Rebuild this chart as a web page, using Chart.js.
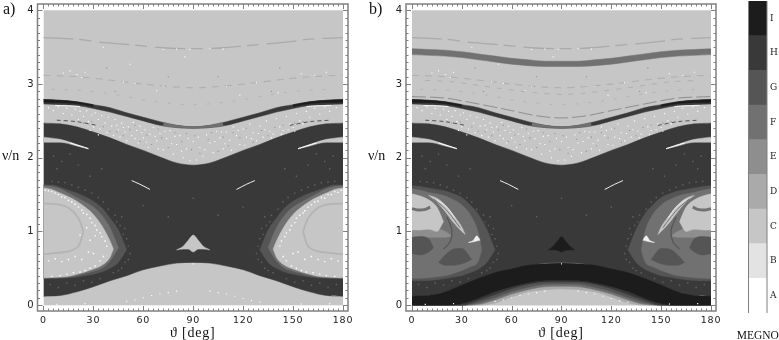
<!DOCTYPE html>
<html>
<head>
<meta charset="utf-8">
<script src="https://cdn.jsdelivr.net/npm/chart.js@4"></script>
<style>
  html, body { margin: 0; padding: 0; background: #fff; overflow: hidden; }
  canvas { position: absolute; top: 0; }
</style>
</head>
<body>
<canvas id="panelA" width="360" height="340" style="left:0"></canvas>
<canvas id="panelB" width="368" height="340" style="left:360px"></canvas>
<canvas id="megnoBar" width="69" height="340" style="left:710px"></canvas>
<script>
// ── Axis ticks and MEGNO key ─────────────────────────────
const thetaTicks = [0, 30, 60, 90, 120, 150, 180];
const nuTicks = [0, 1, 2, 3, 4];
const megnoLevels = ['I', 'H', 'G', 'F', 'E', 'D', 'C', 'B', 'A'];
const megnoColors = ['#1c1c1c', '#393939', '#555555', '#717171', '#8e8e8e', '#aaaaaa', '#c6c6c6', '#e3e3e3', '#ffffff'];
const megnoWidths = [1, 1, 1, 1, 1, 1, 1, 1, 1];
const [I, H, G, F, E, D, C] = megnoColors;

// ── Boundaries across the whole theta range ──────────────
const thetaEnds = [0, 180];
const topEnds = [4, 4];
const bottomEnds = [0, 0];
const thetaGrid = [0, 10, 20, 30, 40, 50, 60, 70, 80, 90, 100, 110, 120, 130, 140, 150, 160, 170, 180];
const coreTopNu = [2.47, 2.46, 2.42, 2.35, 2.27, 2.18, 2.10, 2.01, 1.93, 1.90, 1.93, 2.01, 2.10, 2.18, 2.27, 2.35, 2.42, 2.46, 2.47];
const coreBottomNu = [0.12, 0.13, 0.18, 0.25, 0.33, 0.40, 0.48, 0.53, 0.57, 0.58, 0.57, 0.53, 0.48, 0.40, 0.33, 0.25, 0.18, 0.13, 0.12];
const ridgeTopNu = [2.79, 2.78, 2.76, 2.72, 2.68, 2.61, 2.55, 2.49, 2.44, 2.42, 2.44, 2.49, 2.55, 2.61, 2.68, 2.72, 2.76, 2.78, 2.79];
const ridgeBottomNu = [2.73, 2.72, 2.71, 2.67, 2.62, 2.56, 2.50, 2.44, 2.41, 2.40, 2.41, 2.44, 2.50, 2.56, 2.62, 2.67, 2.71, 2.72, 2.73];

const ridgeMidTheta = [72, 80, 90, 100, 108];
const ridgeMidTop = [2.48, 2.44, 2.42, 2.44, 2.48];
const ridgeMidBottom = [2.43, 2.41, 2.40, 2.41, 2.43];
const ridgeEdgeTheta = [0, 10, 20, 30];
const ridgeEdgeTop = [2.79, 2.78, 2.76, 2.72];
const ridgeEdgeBottom = [2.755, 2.75, 2.735, 2.695];
const ridgeEdgeThetaRight = [150, 160, 170, 180];

// panel b: wide band near 3.4 and the steps under the core
const wideBandTop = [3.48, 3.47, 3.46, 3.44, 3.41, 3.38, 3.35, 3.33, 3.31, 3.31, 3.31, 3.33, 3.35, 3.38, 3.41, 3.44, 3.46, 3.47, 3.48];
const wideBandBottom = [3.40, 3.39, 3.38, 3.36, 3.33, 3.30, 3.27, 3.25, 3.24, 3.24, 3.24, 3.25, 3.27, 3.30, 3.33, 3.36, 3.38, 3.39, 3.40];
const stepITop = [0.12, 0.13, 0.18, 0.27, 0.36, 0.44, 0.49, 0.54, 0.56, 0.57, 0.56, 0.54, 0.49, 0.44, 0.36, 0.27, 0.18, 0.13, 0.12];
const stepIBottom = [0, 0, 0, 0.02, 0.09, 0.18, 0.25, 0.30, 0.33, 0.335, 0.33, 0.30, 0.25, 0.18, 0.09, 0.02, 0, 0, 0];
const stepHBottom = [0, 0, 0, 0, 0.06, 0.14, 0.22, 0.28, 0.31, 0.315, 0.31, 0.28, 0.22, 0.14, 0.06, 0, 0, 0, 0];
const stepGBottom = [0, 0, 0, 0, 0.03, 0.10, 0.18, 0.24, 0.28, 0.285, 0.28, 0.24, 0.18, 0.10, 0.03, 0, 0, 0, 0];
const stepFBottom = [0, 0, 0, 0, 0.01, 0.07, 0.15, 0.21, 0.25, 0.255, 0.25, 0.21, 0.15, 0.07, 0.01, 0, 0, 0, 0];
const stepCTop = [0, 0, 0, 0, 0, 0.03, 0.11, 0.18, 0.21, 0.22, 0.21, 0.18, 0.11, 0.03, 0, 0, 0, 0, 0];
const zeroNu = [0, 0, 0, 0, 0, 0, 0, 0, 0, 0, 0, 0, 0, 0, 0, 0, 0, 0, 0];

// ── Wedges and islands (left side; right side reuses the nu values) ──
const wedgeTheta = [0, 10, 20, 27];
const wedgeThetaRight = [153, 160, 170, 180];
const wedgeTop = [2.28, 2.25, 2.18, 2.12];
const wedgeBottom = [2.21, 2.21, 2.16, 2.12];

const tipTheta = [80, 84, 87, 90, 93, 96, 100];
const tipTop = [0.75, 0.80, 0.88, 0.95, 0.88, 0.80, 0.75];
const tipBottom = [0.75, 0.76, 0.76, 0.72, 0.76, 0.76, 0.75];
const tipThetaB = [82, 85, 88, 90, 92, 95, 98];
const tipTopB = [0.75, 0.80, 0.88, 0.93, 0.88, 0.80, 0.75];
const tipBottomB = [0.75, 0.75, 0.74, 0.72, 0.74, 0.75, 0.75];

const islandTheta = [0, 5, 10, 15, 20, 25, 30, 35, 40, 42];
const islandThetaRight = [138, 140, 145, 150, 155, 160, 165, 170, 175, 180];
const islandTop = [1.59, 1.57, 1.52, 1.47, 1.41, 1.33, 1.23, 1.08, 0.87, 0.76];
const islandBottom = [0.37, 0.375, 0.38, 0.39, 0.42, 0.45, 0.49, 0.54, 0.65, 0.76];

const ringFTheta = [0, 5, 10, 15, 20, 25, 30, 35, 40, 45];
const ringFThetaRight = [135, 140, 145, 150, 155, 160, 165, 170, 175, 180];
const ringFTop = [1.62, 1.61, 1.58, 1.52, 1.46, 1.40, 1.33, 1.22, 1.05, 0.78];
const ringFBottom = [0.365, 0.37, 0.375, 0.38, 0.40, 0.43, 0.46, 0.50, 0.60, 0.78];

const ringGTheta = [0, 5, 10, 15, 20, 25, 30, 35, 40, 45, 50];
const ringGThetaRight = [130, 135, 140, 145, 150, 155, 160, 165, 170, 175, 180];
const ringGTop = [1.63, 1.63, 1.60, 1.56, 1.52, 1.47, 1.41, 1.32, 1.18, 1.02, 0.75];
const ringGBottom = [0.36, 0.36, 0.365, 0.37, 0.38, 0.40, 0.42, 0.45, 0.50, 0.58, 0.75];

// panel b island
const ringGTopB = [1.62, 1.61, 1.59, 1.57, 1.55, 1.51, 1.46, 1.36, 1.23, 1.03, 0.75];
const ringGBottomB = [0.33, 0.33, 0.335, 0.345, 0.36, 0.38, 0.40, 0.44, 0.49, 0.58, 0.75];
const coreFTheta = [0, 5, 10, 15, 20, 25, 30, 35, 40, 42];
const coreFThetaRight = [138, 140, 145, 150, 155, 160, 165, 170, 175, 180];
const coreFTop = [1.58, 1.56, 1.53, 1.51, 1.48, 1.43, 1.36, 1.23, 0.98, 0.75];
const coreFBottom = [0.36, 0.365, 0.37, 0.385, 0.40, 0.43, 0.47, 0.52, 0.60, 0.75];
const midETheta = [0, 5, 10, 15, 20, 24];
const midEThetaRight = [156, 160, 165, 170, 175, 180];
const midETop = [1.06, 1.06, 1.06, 1.04, 1.00, 0.94];
const midEBottom = [0.92, 0.92, 0.92, 0.92, 0.92, 0.94];
const lobeTheta = [0, 5, 10, 15, 19];
const lobeThetaRight = [161, 165, 170, 175, 180];
const lobeTop = [1.51, 1.48, 1.43, 1.33, 1.13];
const lobeBottom = [1.02, 1.02, 1.03, 1.00, 1.13];
const crescentTheta = [10, 15, 20, 25, 30, 32];
const crescentThetaRight = [148, 150, 155, 160, 165, 170];
const crescentTop = [1.49, 1.45, 1.36, 1.22, 1.06, 0.96];
const crescentBottom = [1.49, 1.40, 1.27, 1.12, 1.00, 0.96];
const ovalOneTheta = [0, 5, 10, 13];
const ovalOneThetaRight = [167, 170, 175, 180];
const ovalOneTop = [0.92, 0.93, 0.90, 0.78];
const ovalOneBottom = [0.70, 0.68, 0.72, 0.78];
const ovalTwoTheta = [16, 20, 25, 30, 36];
const ovalTwoThetaRight = [144, 150, 155, 160, 164];
const ovalTwoTop = [0.58, 0.68, 0.76, 0.77, 0.62];
const ovalTwoBottom = [0.58, 0.54, 0.54, 0.56, 0.62];
const flareTheta = [34, 37, 39, 41];
const flareThetaRight = [139, 141, 143, 146];
const flareTop = [0.85, 0.88, 0.94, 0.88];
const flareBottom = [0.85, 0.86, 0.87, 0.88];

// ── Thin traces as [theta, nu] ───────────────────────────
const line36 = [[0, 3.63], [20, 3.61], [34, 3.57], [54, 3.53], [74, 3.49], [90, 3.48], [106, 3.49], [126, 3.53], [146, 3.57], [160, 3.61], [180, 3.63]];
const line31 = [[0, 3.12], [20, 3.10], [34, 3.07], [60, 3.00], [90, 2.95], [120, 3.00], [146, 3.07], [160, 3.10], [180, 3.12]];
const line29 = [[5, 2.93], [25, 2.91], [45, 2.85], [65, 2.77], [90, 2.72], [115, 2.77], [135, 2.85], [155, 2.91], [175, 2.93]];
const line28 = [[0, 2.83], [20, 2.81], [40, 2.73], [60, 2.64], [75, 2.57], [90, 2.54], [105, 2.57], [120, 2.64], [140, 2.73], [160, 2.81], [180, 2.83]];
const lineB30 = [[8, 3.05], [25, 3.03], [50, 2.95], [75, 2.88], [90, 2.86], [105, 2.88], [130, 2.95], [155, 3.03], [172, 3.05]];
const dashLeft = [[8, 2.51], [20, 2.49], [32, 2.44]];
const dashRight = [[148, 2.44], [160, 2.49], [172, 2.51]];
const ridgeGlowLeft = [[7, 2.71], [15, 2.705], [22, 2.695]];
const ridgeGlowRight = [[158, 2.695], [165, 2.705], [173, 2.71]];
const wedgeGlowLeft = [[16, 2.20], [22, 2.16], [27, 2.125]];
const wedgeGlowRight = [[153, 2.125], [158, 2.16], [164, 2.20]];
const streakLeft = [[53, 1.69], [58, 1.64], [64, 1.57]];
const streakRight = [[116, 1.57], [122, 1.64], [127, 1.69]];
const arcTopLeft = [[0, 1.38], [8, 1.37], [15, 1.32], [21, 1.18], [24, 1.0]];
const arcLowLeft = [[0, 0.69], [8, 0.71], [15, 0.73], [21, 0.80], [24, 1.0]];
const arcTopRight = [[156, 1.0], [159, 1.18], [165, 1.32], [172, 1.37], [180, 1.38]];
const arcLowRight = [[156, 1.0], [159, 0.80], [165, 0.73], [172, 0.71], [180, 0.69]];
const swirlLeft = [[0, 1.31], [4, 1.29], [8, 1.30], [11, 1.33]];
const swirlRight = [[169, 1.33], [172, 1.30], [176, 1.29], [180, 1.31]];
const hookLeft = [[21, 1.20], [24, 1.02], [23, 0.86], [19, 0.76]];
const hookRight = [[161, 0.76], [157, 0.86], [156, 1.02], [159, 1.20]];
const stripeOneLeft = [[13, 1.44], [19, 1.33], [24, 1.20], [29, 1.05]];
const stripeOneRight = [[151, 1.05], [156, 1.20], [161, 1.33], [167, 1.44]];
const stripeTwoLeft = [[15, 1.43], [21, 1.33], [26, 1.18]];
const stripeTwoRight = [[154, 1.18], [159, 1.33], [165, 1.43]];

// ── Specks as [theta, nu] ────────────────────────────────
const whiteSpecks = [
  [3, 2.68], [6, 2.64], [9, 2.69], [12, 2.60], [14, 2.67], [17, 2.58], [19, 2.66], [21, 2.52], [22, 2.63], [24, 2.56],
  [26, 2.64], [27, 2.49], [29, 2.58], [30, 2.42], [31, 2.61], [33, 2.52], [34, 2.39], [35, 2.57], [37, 2.47], [38, 2.34],
  [39, 2.55], [41, 2.43], [42, 2.30], [43, 2.52], [45, 2.38], [46, 2.28], [47, 2.47], [49, 2.35], [50, 2.23], [51, 2.42],
  [53, 2.30], [54, 2.48], [56, 2.37], [57, 2.20], [58, 2.43], [60, 2.27], [61, 2.38], [63, 2.14], [64, 2.32], [66, 2.41],
  [68, 2.23], [70, 2.33], [72, 2.11], [74, 2.26], [76, 2.37], [78, 2.05], [80, 2.18], [82, 2.30], [84, 2.00], [86, 2.12],
  [88, 1.96], [90, 2.22], [92, 1.97], [94, 2.14], [96, 2.02], [98, 2.31], [100, 2.20], [102, 2.07], [104, 2.36], [106, 2.27],
  [108, 2.12], [110, 2.35], [112, 2.24], [114, 2.42], [116, 2.30], [118, 2.18], [120, 2.39], [122, 2.28], [124, 2.46], [126, 2.34],
  [128, 2.23], [130, 2.43], [132, 2.28], [134, 2.50], [136, 2.36], [138, 2.32], [140, 2.53], [142, 2.42], [144, 2.37], [146, 2.56],
  [148, 2.46], [150, 2.41], [152, 2.60], [154, 2.50], [156, 2.46], [158, 2.63], [160, 2.55], [163, 2.67], [166, 2.59], [169, 2.69],
  [172, 2.63], [176, 2.68],
  [12, 3.15], [16, 3.18], [20, 3.13], [23, 3.09], [25, 3.16], [48, 3.03], [55, 3.01], [72, 2.97], [85, 3.37], [110, 2.97], [128, 3.02], [155, 3.14], [163, 3.12], [170, 3.16],
  [52, 3.27], [36, 3.50], [68, 2.91], [118, 2.85], [141, 2.88],
  [72, 3.47], [80, 3.475], [88, 3.47], [100, 3.48], [108, 3.475],
  [50, 0.05], [55, 0.07], [60, 0.10], [65, 0.13], [70, 0.15], [75, 0.17], [80, 0.19], [90, 0.56], [100, 0.19], [105, 0.17], [110, 0.15], [115, 0.12], [120, 0.09], [125, 0.06], [130, 0.04],
  [8, 0.01], [25, 0.02], [155, 0.015], [172, 0.02],
  [28, 2.37], [33, 2.31], [44, 2.44], [48, 2.41], [55, 2.26], [59, 2.34], [62, 2.21], [67, 2.29], [69, 2.12], [73, 2.36], [77, 2.19], [79, 2.29], [83, 2.09], [87, 2.26],
  [93, 2.28], [97, 2.11], [103, 2.22], [107, 2.35], [109, 2.19], [113, 2.10], [117, 2.37], [121, 2.17], [125, 2.26], [129, 2.33], [133, 2.38], [137, 2.27], [143, 2.32], [147, 2.38], [151, 2.36]
];
const greySpecks = [
  [24, 2.47], [29, 2.49], [36, 2.42], [40, 2.36], [44, 2.35], [48, 2.30], [52, 2.38], [55, 2.44], [58, 2.22], [62, 2.31], [65, 2.18], [69, 2.39], [71, 2.27], [75, 2.14], [79, 2.34], [83, 2.22], [86, 2.33], [89, 2.11],
  [91, 2.30], [94, 2.06], [99, 2.25], [101, 2.34], [105, 2.09], [108, 2.28], [111, 2.16], [114, 2.34], [118, 2.27], [122, 2.40], [126, 2.21], [131, 2.37], [135, 2.30], [139, 2.41], [144, 2.44], [151, 2.47], [156, 2.49],
  [38, 3.22], [43, 2.90], [75, 3.10], [105, 3.10], [137, 2.90], [142, 3.22]
];
const rimSpecks = [
  [1, 1.56], [3, 1.55], [5, 1.54], [7, 1.52], [9, 1.50], [11, 1.47], [13, 1.46], [15, 1.42], [17, 1.40], [19, 1.37],
  [21, 1.33], [23, 1.29], [24, 1.25], [26, 1.23], [28, 1.18], [29, 1.12], [31, 1.08], [32, 1.02], [34, 0.98], [35, 0.93],
  [37, 0.87], [38, 0.80], [36, 0.66], [34, 0.60], [31, 0.53], [28, 0.50], [25, 0.47], [22, 0.45], [18, 0.44], [14, 0.42],
  [10, 0.40], [5, 0.39], [3, 0.60], [7, 0.63], [11, 0.59], [15, 0.62], [19, 0.66], [23, 0.62], [27, 0.72], [30, 0.70],
  [26, 1.05], [22, 0.95], [28, 0.88], [31, 0.94],
  [179, 1.56], [177, 1.53], [175, 1.54], [173, 1.50], [171, 1.50], [169, 1.45], [167, 1.46], [165, 1.41], [163, 1.40], [161, 1.36],
  [159, 1.33], [157, 1.28], [156, 1.25], [154, 1.22], [152, 1.18], [151, 1.12], [149, 1.08], [148, 1.02], [146, 0.98], [145, 0.93],
  [143, 0.87], [142, 0.80], [144, 0.66], [146, 0.60], [149, 0.53], [152, 0.50], [155, 0.47], [158, 0.45], [162, 0.44], [166, 0.42],
  [170, 0.40], [175, 0.39], [177, 0.60], [173, 0.63], [169, 0.59], [165, 0.62], [161, 0.66], [157, 0.62], [153, 0.72], [150, 0.70]
];
const fringeSpecks = [
  [43, 1.22], [44, 1.13], [46, 1.08], [47, 1.20], [48, 0.96], [49, 1.04], [50, 0.90], [51, 0.80], [52, 0.70], [51, 0.62], [49, 0.58], [47, 0.50], [45, 0.47], [42, 0.44],
  [39, 1.30], [36, 1.40], [33, 1.46], [29, 1.52], [25, 1.56], [21, 1.60], [17, 1.63], [13, 1.66], [9, 1.67], [5, 1.68],
  [137, 1.22], [136, 1.13], [134, 1.08], [133, 1.20], [132, 0.96], [131, 1.04], [130, 0.90], [129, 0.80], [128, 0.70], [129, 0.62], [131, 0.58], [133, 0.50], [135, 0.47], [138, 0.44],
  [141, 1.30], [144, 1.40], [147, 1.46], [151, 1.52], [155, 1.56], [159, 1.60], [163, 1.63], [167, 1.66], [171, 1.67], [175, 1.68],
  [4, 0.28], [9, 0.24], [14, 0.30], [19, 0.27], [24, 0.33], [29, 0.31], [34, 0.36], [146, 0.36], [151, 0.31], [156, 0.33], [161, 0.27], [166, 0.30], [171, 0.24], [176, 0.28],
  [6, 2.02], [11, 1.95], [16, 2.05], [8, 1.85], [21, 1.90], [28, 1.75], [35, 1.85], [60, 1.35], [75, 1.20], [90, 1.45], [105, 1.22], [120, 1.33], [145, 1.85], [152, 1.75], [159, 1.90], [172, 1.85], [164, 2.05], [169, 1.95], [174, 2.02]
];

// ── Dataset building ─────────────────────────────────────
const pts = (xs, ys) => xs.map((x, i) => ({ x: x, y: ys[i] }));
const band = (xs, top, bottom, color) => ({ xs, top, bottom, color });
const both = (xs, xsRight, top, bottom, color) => [
  band(xs, top, bottom, color),
  band(xsRight, [...top].reverse(), [...bottom].reverse(), color)
];
const trace = (points, color, width, dash) => ({ points, color, width, dash: dash || [] });
const pair = (a, b, color, width, dash) => [trace(a, color, width, dash), trace(b, color, width, dash)];

function buildDatasets(bands, traces, specks) {
  const out = [];
  specks.forEach(s => out.push({
    data: s.points.map(p => ({ x: p[0], y: p[1] })),
    showLine: false, pointStyle: 'rect', pointRadius: s.size, pointBackgroundColor: s.color, pointBorderWidth: 0
  }));
  traces.forEach(t => out.push({
    data: t.points.map(p => ({ x: p[0], y: p[1] })),
    borderColor: t.color, borderWidth: t.width, borderDash: t.dash, pointRadius: 0, fill: false, tension: 0.3
  }));
  // first dataset is painted on top, so the bands go in last-to-first
  [...bands].reverse().forEach(b => {
    out.push({
      data: pts(b.xs, b.top), backgroundColor: b.color, borderColor: b.color, borderWidth: 0.5,
      pointRadius: 0, fill: '+1', cubicInterpolationMode: 'monotone'
    });
    out.push({
      data: pts(b.xs, b.bottom), borderColor: b.color, borderWidth: 0.5,
      pointRadius: 0, fill: false, cubicInterpolationMode: 'monotone'
    });
  });
  return out;
}

// frame, inward ticks and the free-standing labels
const frameColor = '#808080';
const panelDecor = {
  id: 'panelDecor',
  beforeDraw(chart) { chart.ctx.letterSpacing = '0.8px'; },
  afterDatasetsDraw(chart) {
    const { ctx, chartArea: a, scales } = chart;
    ctx.save();
    ctx.strokeStyle = frameColor;
    ctx.lineWidth = 1;
    ctx.beginPath();
    for (let v = 0; v <= 180; v += 3) {
      const px = Math.round(scales.x.getPixelForValue(v)) + 0.5;
      const len = v % 30 === 0 ? 5 : 2.5;
      ctx.moveTo(px, a.bottom); ctx.lineTo(px, a.bottom - len);
      ctx.moveTo(px, a.top); ctx.lineTo(px, a.top + len);
    }
    for (let k = 0; k <= 40; k++) {
      const py = Math.round(scales.y.getPixelForValue(k / 10)) + 0.5;
      const len = k % 10 === 0 ? 5 : 2.5;
      ctx.moveTo(a.left, py); ctx.lineTo(a.left + len, py);
      ctx.moveTo(a.right, py); ctx.lineTo(a.right - len, py);
    }
    ctx.stroke();
    ctx.lineWidth = 1.5;
    ctx.strokeRect(a.left, a.top, a.right - a.left, a.bottom - a.top);
    const o = chart.options.plugins.panelDecor;
    ctx.letterSpacing = '0px';
    ctx.fillStyle = '#111';
    ctx.textAlign = 'left';
    ctx.textBaseline = 'middle';
    ctx.font = '16px "Liberation Serif"';
    ctx.fillText(o.tag, o.tagX, 10);
    ctx.font = '14px "Liberation Serif"';
    ctx.fillText('ν/n', o.nuX, 156);
    ctx.restore();
  }
};

function makePanel(id, leftWidth, bands, traces, specks, tag, tagX, nuX) {
  new Chart(document.getElementById(id), {
    type: 'line',
    data: { datasets: buildDatasets(bands, traces, specks) },
    plugins: [panelDecor],
    options: {
      responsive: false,
      animation: false,
      devicePixelRatio: 1,
      layout: { padding: { top: 0.5, right: 12, left: 0, bottom: 0 } },
      plugins: {
        legend: { display: false },
        tooltip: { enabled: false },
        panelDecor: { tag, tagX, nuX }
      },
      scales: {
        x: {
          type: 'linear', min: -3.6, max: 183,
          afterBuildTicks: s => { s.ticks = thetaTicks.map(v => ({ value: v })); },
          afterFit: s => { s.height = 29; s.paddingLeft = 0; s.paddingRight = 0; },
          grid: { display: false, drawTicks: false },
          border: { display: false },
          ticks: { color: '#222', font: { family: 'DejaVu Sans', size: 9.5 }, padding: 4, maxRotation: 0, autoSkip: false },
          title: { display: true, text: 'ϑ [deg]', color: '#111', font: { family: 'Liberation Serif', size: 14 }, padding: { top: 0, bottom: -1.5 } }
        },
        y: {
          min: -0.08, max: 4.087,
          afterBuildTicks: s => { s.ticks = nuTicks.map(v => ({ value: v })); },
          afterFit: s => { s.width = leftWidth; s.paddingTop = 0; s.paddingBottom = 0; },
          grid: { display: false, drawTicks: false },
          border: { display: false },
          ticks: { color: '#222', font: { family: 'DejaVu Sans', size: 10 }, padding: 3 }
        }
      }
    }
  });
}

// ── Panel a ──────────────────────────────────────────────
const sharedTop = [
  band(thetaEnds, topEnds, bottomEnds, C),
  band(thetaGrid, ridgeTopNu, ridgeBottomNu, H),
  ...both(ridgeEdgeTheta, ridgeEdgeThetaRight, ridgeEdgeTop, ridgeEdgeBottom, I),
  band(ridgeMidTheta, ridgeMidTop, ridgeMidBottom, F),
  band(thetaGrid, coreTopNu, coreBottomNu, H),
  ...both(wedgeTheta, wedgeThetaRight, wedgeTop, wedgeBottom, C)
];
const bandsA = [
  ...sharedTop,
  ...both(ringGTheta, ringGThetaRight, ringGTop, ringGBottom, G),
  ...both(ringFTheta, ringFThetaRight, ringFTop, ringFBottom, F),
  ...both(islandTheta, islandThetaRight, islandTop, islandBottom, C),
  band(tipTheta, tipTop, tipBottom, C)
];
const tracesA = [
  ...pair(arcTopLeft, arcLowLeft, '#b4b4b4', 1.8),
  ...pair(arcTopRight, arcLowRight, '#b4b4b4', 1.8),
  ...pair(dashLeft, dashRight, G, 1, [4, 3]),
  ...pair(ridgeGlowLeft, ridgeGlowRight, '#f4f4f4', 1),
  ...pair(wedgeGlowLeft, wedgeGlowRight, '#ffffff', 1),
  ...pair(streakLeft, streakRight, '#f0f0f0', 1),
  trace(line36, D, 1.3, [30, 6, 12, 8]),
  trace(line31, '#b0b0b0', 1.1, [7, 6]),
  trace(line29, '#b4b4b4', 1, [3, 10])
];
const specksA = [
  { points: whiteSpecks, color: '#ffffff', size: 0.8 },
  { points: greySpecks, color: '#8e8e8e', size: 0.75 },
  { points: rimSpecks, color: '#ffffff', size: 1 },
  { points: fringeSpecks, color: '#636363', size: 1 }
];
makePanel('panelA', 37.5, bandsA, tracesA, specksA, 'a)', 3, 2);

// ── Panel b ──────────────────────────────────────────────
const bandsB = [
  ...sharedTop,
  band(thetaGrid, wideBandTop, wideBandBottom, F),
  band(thetaGrid, stepCTop, zeroNu, C),
  band(thetaGrid, stepFBottom, stepCTop, D),
  band(thetaGrid, stepGBottom, stepFBottom, F),
  band(thetaGrid, stepHBottom, stepGBottom, G),
  band(thetaGrid, stepIBottom, stepHBottom, H),
  band(thetaGrid, stepITop, stepIBottom, I),
  ...both(ringGTheta, ringGThetaRight, ringGTopB, ringGBottomB, G),
  ...both(coreFTheta, coreFThetaRight, coreFTop, coreFBottom, F),
  ...both(midETheta, midEThetaRight, midETop, midEBottom, E),
  ...both(lobeTheta, lobeThetaRight, lobeTop, lobeBottom, C),
  ...both(crescentTheta, crescentThetaRight, crescentTop, crescentBottom, C),
  ...both(flareTheta, flareThetaRight, flareTop, flareBottom, '#f0f0f0'),
  ...both(ovalOneTheta, ovalOneThetaRight, ovalOneTop, ovalOneBottom, G),
  ...both(ovalTwoTheta, ovalTwoThetaRight, ovalTwoTop, ovalTwoBottom, G),
  band(tipThetaB, tipTopB, tipBottomB, I)
];
const tracesB = [
  ...pair(swirlLeft, swirlRight, F, 3),
  ...pair(hookLeft, hookRight, G, 1.2),
  ...pair(stripeOneLeft, stripeOneRight, F, 1),
  ...pair(stripeTwoLeft, stripeTwoRight, '#f4f4f4', 0.8),
  ...pair(dashLeft, dashRight, G, 1, [4, 3]),
  ...pair(ridgeGlowLeft, ridgeGlowRight, '#f4f4f4', 1),
  ...pair(wedgeGlowLeft, wedgeGlowRight, '#ffffff', 1),
  ...pair(streakLeft, streakRight, '#f0f0f0', 1),
  trace(line36, D, 1.3, [30, 6, 12, 8]),
  trace(line31, '#b0b0b0', 1.1, [7, 6]),
  trace(lineB30, '#b0b0b0', 1, [5, 7]),
  trace(line28, E, 1, [14, 4]),
  trace(line29, '#b4b4b4', 1, [3, 10])
];
const specksB = [
  { points: whiteSpecks, color: '#ffffff', size: 0.8 },
  { points: greySpecks, color: '#8e8e8e', size: 0.75 },
  { points: fringeSpecks, color: '#636363', size: 1 }
];
makePanel('panelB', 46, bandsB, tracesB, specksB, 'b)', 9, 8);

// ── MEGNO key ────────────────────────────────────────────
const keyEdges = {
  id: 'keyEdges',
  afterDatasetsDraw(chart) {
    const { ctx, chartArea: a } = chart;
    ctx.save();
    ctx.strokeStyle = frameColor;
    ctx.lineWidth = 1;
    ctx.beginPath();
    ctx.moveTo(a.left, a.top); ctx.lineTo(a.left, a.bottom);
    ctx.moveTo(a.right, a.top); ctx.lineTo(a.right, a.bottom);
    ctx.stroke();
    ctx.fillStyle = '#111';
    ctx.font = '11.5px "Liberation Serif"';
    ctx.textAlign = 'center';
    ctx.textBaseline = 'middle';
    ctx.fillText('MEGNO', (a.left + a.right) / 2, 336);
    ctx.restore();
  }
};
new Chart(document.getElementById('megnoBar'), {
  type: 'bar',
  data: {
    labels: megnoLevels,
    datasets: [{ data: megnoWidths, backgroundColor: megnoColors, barPercentage: 1, categoryPercentage: 1 }]
  },
  plugins: [keyEdges],
  options: {
    indexAxis: 'y',
    responsive: false,
    animation: false,
    devicePixelRatio: 1,
    layout: { padding: { left: 38.5, top: 1, right: 0, bottom: 0 } },
    plugins: { legend: { display: false }, tooltip: { enabled: false } },
    scales: {
      x: {
        min: 0, max: 1,
        afterFit: s => { s.height = 27; s.paddingLeft = 0; s.paddingRight = 0; },
        grid: { display: false, drawTicks: false },
        border: { display: false },
        ticks: { display: false }
      },
      y: {
        position: 'right',
        afterFit: s => { s.width = 12; s.paddingTop = 0; s.paddingBottom = 0; },
        grid: { display: false, drawTicks: false },
        border: { display: false },
        ticks: { color: '#222', font: { family: 'DejaVu Serif', size: 9 }, padding: 3 }
      }
    }
  }
});
</script>
</body>
</html>
